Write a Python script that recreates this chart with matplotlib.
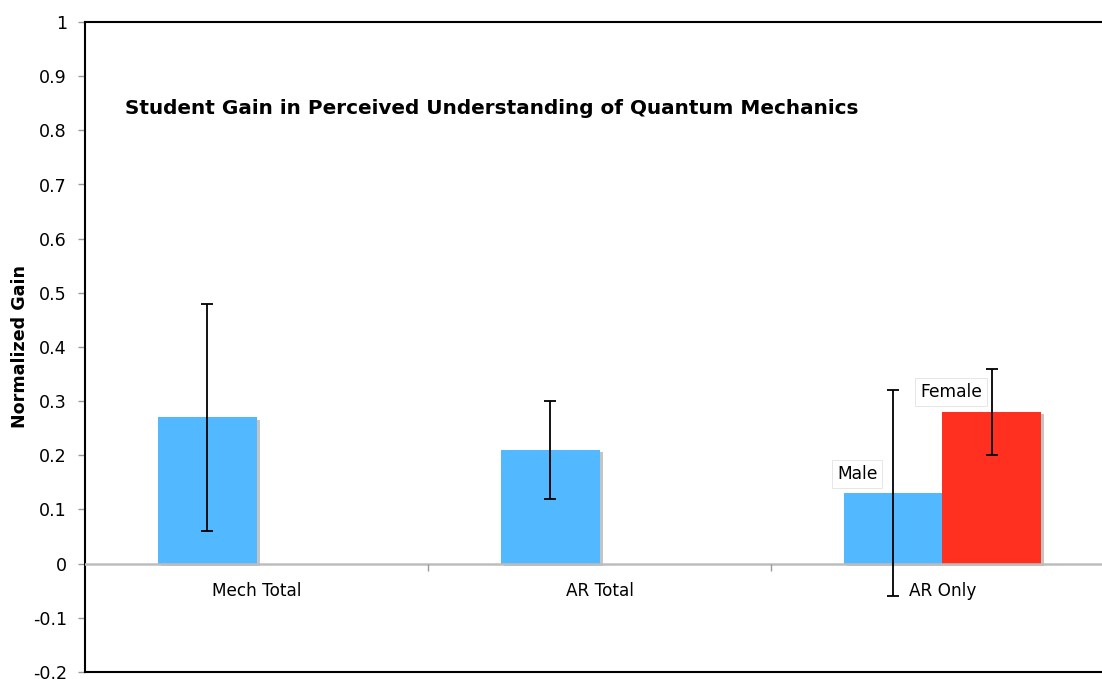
import numpy as np
import matplotlib
matplotlib.use("Agg")
import matplotlib.pyplot as plt
import matplotlib.patheffects as pe

categories = ["Mech Total", "AR Total", "AR Only"]
blue_vals = [0.27, 0.21, 0.13]
blue_err = [0.21, 0.09, 0.19]
red_vals = [np.nan, np.nan, 0.28]
red_err = [np.nan, np.nan, 0.08]
series_labels = ["Male", "Female"]
yticks = [-0.2, -0.1, 0, 0.1, 0.2, 0.3, 0.4, 0.5, 0.6, 0.7, 0.8, 0.9, 1]

BLUE = "#52b8ff"
RED = "#ff3020"
GRAY = "#c4c4c4"

plt.rcParams["font.family"] = "DejaVu Sans"

fig = plt.figure(figsize=(11.02, 6.79), dpi=100)
ax = fig.add_axes([85 / 1102, 7 / 679, 1029 / 1102, 650 / 679])

x = np.arange(len(categories))
width = 0.286
shadow = [pe.SimplePatchShadow(offset=(2.2, -1.5), shadow_rgbFace=GRAY, alpha=1), pe.Normal()]

def draw_series(vals, errs, offset, color):
    vals = np.array(vals, dtype=float)
    errs = np.array(errs, dtype=float)
    ok = ~np.isnan(vals)
    bars = ax.bar(x[ok] + offset, vals[ok], width, color=color, zorder=2)
    for b in bars:
        b.set_path_effects(shadow)
    ax.errorbar(x[ok] + offset, vals[ok], yerr=errs[ok], fmt="none", ecolor="black",
                elinewidth=1.3, capsize=4.5, capthick=1.3, zorder=4)

draw_series(blue_vals, blue_err, -width / 2, BLUE)
draw_series(red_vals, red_err, width / 2, RED)

ax.axhline(0, color="#bdbdbd", lw=1.8, zorder=3)
bounds = x[:-1] + 0.5
ax.plot(bounds, np.zeros_like(bounds), linestyle="none", marker=3, markersize=5,
        markeredgecolor="#9a9a9a", markeredgewidth=1, zorder=3, clip_on=False)

for xi, name in zip(x, categories):
    ax.annotate(name, (xi, 0), xytext=(0, -27), textcoords="offset pixels",
                ha="center", va="center", fontsize=12.2)

ax.set_xlim(-0.5, len(categories) - 0.5)
ax.set_ylim(-0.2, 1)
ax.set_xticks([])
ax.set_yticks(yticks)
ax.set_yticklabels([f"{t:g}" for t in yticks], fontsize=12.6)
ax.tick_params(axis="y", length=5, width=1, color="#9a9a9a", pad=8)
for s in ["left", "bottom", "top", "right"]:
    ax.spines[s].set_linewidth(1.5)
    ax.spines[s].set_color("black")

ax.set_ylabel("Normalized Gain", fontsize=12.6, fontweight="bold", labelpad=3)

box = dict(boxstyle="square,pad=0.3", facecolor="white", edgecolor="#e2e2e2", linewidth=0.6)
ax.text(1.751, 0.166, series_labels[0], ha="center", va="center", fontsize=12.3, bbox=box, zorder=5)
ax.text(2.025, 0.317, series_labels[1], ha="center", va="center", fontsize=12.3, bbox=box, zorder=3)

ax.text(125 / 1102, 1 - 108 / 679, "Student Gain in Perceived Understanding of Quantum Mechanics",
        transform=fig.transFigure, fontsize=14.4, fontweight="bold", ha="left", va="center")

fig.savefig("out.png", dpi=100)
